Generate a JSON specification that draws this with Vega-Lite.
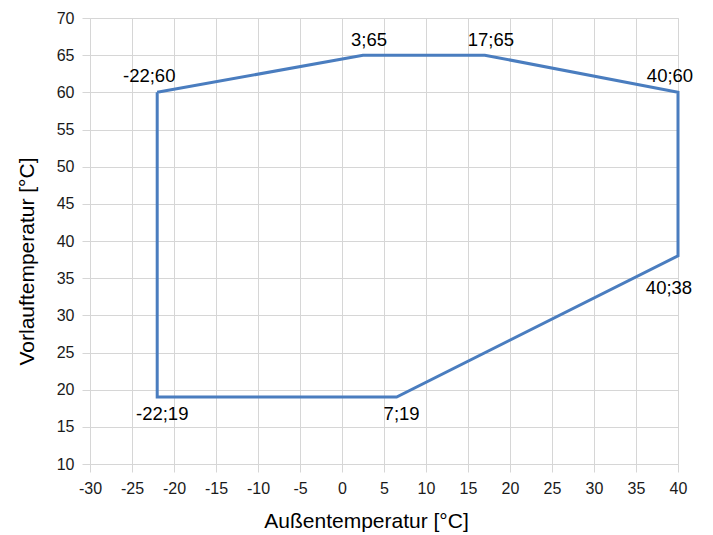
{
  "$schema": "https://vega.github.io/schema/vega-lite/v6.json",
  "width": 588,
  "height": 446,
  "autosize": {"type": "none"},
  "padding": {"left": 90, "top": 18, "right": 35, "bottom": 71},
  "background": "white",
  "config": {
    "view": {"stroke": "#d6d6d6", "strokeWidth": 1},
    "font": "Liberation Sans",
    "axis": {
      "gridColor": "#d6d6d6",
      "gridWidth": 1,
      "domain": false,
      "tickColor": "#d6d6d6",
      "tickSize": 8,
      "labelFlush": false,
      "labelOverlap": false,
      "labelFont": "Liberation Sans",
      "labelFontSize": 16,
      "labelColor": "#1a1a1a",
      "labelExpr": "replace(datum.label, '\u2212', '-')",
      "titleFont": "Liberation Sans",
      "titleFontSize": 21,
      "titleFontWeight": "normal",
      "titleColor": "#000000"
    }
  },
  "datasets": {
    "grenze": [
      {"reihenfolge": 1, "aussen": -22, "vorlauf": 60, "beschriftung": "-22;60", "lage": "oben-links"},
      {"reihenfolge": 2, "aussen": 2.5, "vorlauf": 65, "beschriftung": "3;65", "lage": "oben"},
      {"reihenfolge": 3, "aussen": 17, "vorlauf": 65, "beschriftung": "17;65", "lage": "oben"},
      {"reihenfolge": 4, "aussen": 40, "vorlauf": 60, "beschriftung": "40;60", "lage": "oben-links"},
      {"reihenfolge": 5, "aussen": 40, "vorlauf": 38, "beschriftung": "40;38", "lage": "unten-links"},
      {"reihenfolge": 6, "aussen": 6.5, "vorlauf": 19, "beschriftung": "7;19", "lage": "unten"},
      {"reihenfolge": 7, "aussen": -22, "vorlauf": 19, "beschriftung": "-22;19", "lage": "unten"},
      {"reihenfolge": 8, "aussen": -22, "vorlauf": 60, "beschriftung": "", "lage": "keine"}
    ]
  },
  "data": {"name": "grenze"},
  "encoding": {
    "x": {
      "field": "aussen",
      "type": "quantitative",
      "scale": {"domain": [-30, 40], "nice": false, "zero": false},
      "axis": {"values": [-30,-25,-20,-15,-10,-5,0,5,10,15,20,25,30,35,40], "title": "Außentemperatur [°C]", "titlePadding": 14, "titleX": 276, "labelPadding": 8}
    },
    "y": {
      "field": "vorlauf",
      "type": "quantitative",
      "scale": {"domain": [10, 70], "nice": false, "zero": false},
      "axis": {"values": [10,15,20,25,30,35,40,45,50,55,60,65,70], "title": "Vorlauftemperatur [°C]", "titlePadding": 19, "titleY": 243, "labelPadding": 8}
    }
  },
  "layer": [
    {
      "mark": {"type": "line", "color": "#4a7dbf", "strokeWidth": 3, "strokeJoin": "miter"},
      "encoding": {"order": {"field": "reihenfolge", "type": "quantitative"}}
    },
    {
      "transform": [{"filter": "datum.lage == 'oben'"}],
      "mark": {"type": "text", "fontSize": 18.5, "dx": 6, "dy": -15, "color": "#000000"},
      "encoding": {"text": {"field": "beschriftung"}}
    },
    {
      "transform": [{"filter": "datum.lage == 'oben-links'"}],
      "mark": {"type": "text", "fontSize": 18.5, "dx": -8, "dy": -16, "color": "#000000"},
      "encoding": {"text": {"field": "beschriftung"}}
    },
    {
      "transform": [{"filter": "datum.lage == 'unten'"}],
      "mark": {"type": "text", "fontSize": 18.5, "dx": 5, "dy": 17, "color": "#000000"},
      "encoding": {"text": {"field": "beschriftung"}}
    },
    {
      "transform": [{"filter": "datum.lage == 'unten-links'"}],
      "mark": {"type": "text", "fontSize": 18.5, "dx": -9, "dy": 32, "color": "#000000"},
      "encoding": {"text": {"field": "beschriftung"}}
    }
  ]
}
